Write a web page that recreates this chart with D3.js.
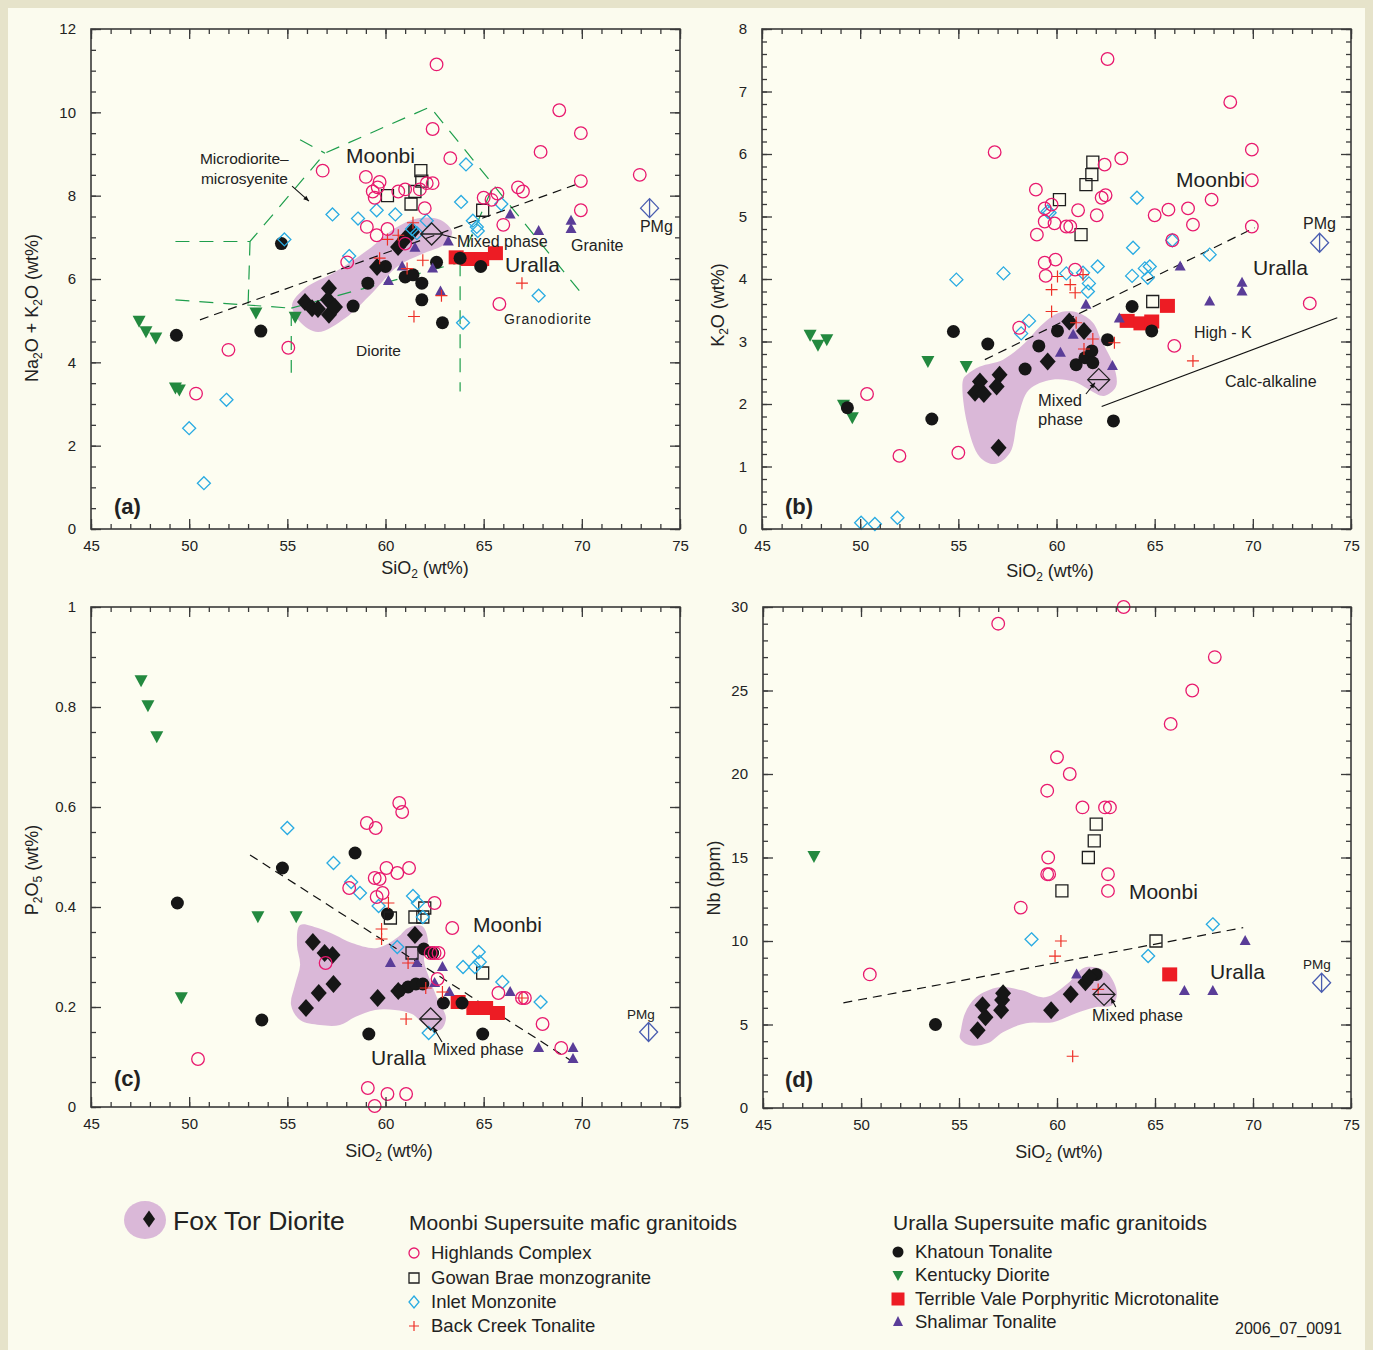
<!DOCTYPE html>
<html><head><meta charset="utf-8">
<script src="https://cdn.jsdelivr.net/npm/d3@7"></script>
<style>
body{margin:0;background:#e6e3ca;}
svg{display:block;font-family:"Liberation Sans",Arial,sans-serif;}
</style></head><body>
<svg width="1373" height="1350"></svg>
<script>
// ---------- data: (SiO2, value) pairs ----------
// panel a : Na2O + K2O
const foxTorA = [[55.9,5.45],[56.26,5.3],[56.56,5.28],[57.12,5.78],[57.07,5.5],[57.12,5.14],[57.43,5.33],[59.57,6.29],[60.64,6.77],[61.0,6.96],[61.35,7.13]];
const highlandsA = [[56.8,8.6],[59.0,8.45],[59.7,8.33],[59.6,8.2],[59.35,8.1],[59.45,7.95],[60.65,8.1],[61.0,8.15],[61.75,8.15],[62.1,8.3],[62.4,8.3],[62.0,7.7],[63.3,8.9],[65.0,7.95],[65.4,7.9],[59.05,7.25],[59.55,7.05],[60.1,7.2],[61.0,6.85],[58.05,6.4],[65.8,5.4],[62.6,11.15],[62.4,9.6],[68.85,10.05],[69.95,9.5],[67.9,9.05],[69.95,8.35],[72.95,8.5],[66.75,8.2],[67.0,8.1],[65.7,8.05],[66.0,7.3],[69.95,7.65],[52.0,4.3],[55.05,4.35],[50.35,3.25]];
const gowanA = [[61.8,8.6],[61.85,8.35],[61.5,8.1],[60.1,8.0],[61.3,7.8],[64.95,7.65]];
const inletA = [[64.1,8.75],[63.85,7.85],[60.5,7.55],[59.55,7.65],[58.6,7.45],[57.3,7.55],[54.85,6.95],[58.15,6.55],[62.1,7.4],[61.35,7.2],[61.6,7.1],[64.45,7.4],[64.65,7.25],[64.7,7.15],[65.9,7.8],[67.8,5.6],[63.95,4.95],[51.9,3.1],[50.0,2.42],[50.75,1.1]];
const backCreekA = [[60.1,6.95],[60.65,7.05],[61.4,7.35],[59.7,6.5],[61.9,6.45],[61.1,6.25],[62.85,5.6],[61.45,5.1],[66.95,5.9]];
const khatounA = [[49.35,4.65],[53.65,4.75],[54.7,6.85],[58.35,5.35],[59.1,5.9],[60.0,6.3],[61.0,6.05],[61.4,6.1],[61.85,5.9],[61.85,5.5],[62.9,4.95],[62.6,6.4],[63.8,6.5],[64.85,6.3]];
const kentuckyA = [[47.45,5.0],[47.8,4.75],[48.3,4.6],[49.3,3.4],[49.5,3.35],[53.4,5.2],[55.4,5.1]];
const terribleA = [[63.6,6.52],[64.2,6.48],[64.9,6.48],[65.6,6.62]];
const shalimarA = [[60.15,5.95],[60.85,6.3],[61.5,6.75],[62.4,6.25],[63.2,6.9],[62.8,5.7],[66.35,7.55],[67.8,7.15],[69.45,7.4],[69.45,7.2]];
const mixedA = [62.35,7.08], pmgA = [73.45,7.7];
const fieldA = [[55.24,5.38],[55.65,4.97],[56.56,4.73],[57.94,5.06],[59.31,5.66],[60.64,6.31],[61.86,6.6],[63.03,6.84],[63.39,7.13],[62.78,7.42],[61.66,7.46],[60.48,7.22],[59.11,6.7],[57.43,6.17],[55.9,5.78]];
const tasLines = [
  [[49.3,6.9],[53.1,6.9],[56.92,9.02],[62.27,10.13],[69.9,5.7]],
  [[55.65,9.34],[56.92,9.02]],
  [[53.1,6.9],[53.0,5.35]],
  [[49.3,5.5],[55.2,5.3],[55.2,3.75]],
  [[55.2,5.3],[63.8,6.4],[65.5,8.25]],
  [[63.8,6.4],[63.8,3.3]]
];
const divA = [[50.55,5.02],[69.65,8.26]];

// panel b : K2O
const foxTorB = [[60.65,3.32],[61.4,3.17],[59.55,2.68],[57.1,2.47],[56.1,2.36],[56.95,2.28],[55.85,2.18],[56.3,2.16],[57.05,1.3]];
const highlandsB = [[56.85,6.03],[58.95,5.43],[59.4,5.13],[59.75,5.19],[59.4,4.92],[59.9,4.89],[59.0,4.71],[59.4,4.26],[59.95,4.31],[59.45,4.05],[62.6,7.52],[68.85,6.83],[69.95,6.07],[69.95,5.58],[63.3,5.93],[62.45,5.83],[62.3,5.3],[62.5,5.34],[61.1,5.1],[62.05,5.02],[67.9,5.27],[66.7,5.13],[65.7,5.11],[65.0,5.02],[66.95,4.87],[69.95,4.84],[65.9,4.62],[72.9,3.61],[60.5,4.84],[60.7,4.84],[60.95,4.15],[58.1,3.22],[50.35,2.16],[52.0,1.17],[55.0,1.22],[66.0,2.93]];
const gowanB = [[61.85,5.87],[61.8,5.67],[61.5,5.51],[60.15,5.27],[61.25,4.71],[64.9,3.64]];
const inletB = [[59.55,5.08],[54.9,3.99],[57.3,4.09],[64.1,5.3],[63.9,4.5],[65.9,4.62],[67.8,4.39],[62.1,4.2],[63.85,4.05],[64.5,4.17],[64.75,4.2],[64.65,4.02],[60.5,4.09],[61.35,4.1],[61.65,3.93],[61.6,3.8],[59.65,5.06],[58.6,3.33],[58.2,3.13],[50.05,0.1],[50.75,0.08],[51.9,0.18]];
const backCreekB = [[60.05,4.04],[59.75,3.83],[60.7,3.91],[60.95,3.78],[61.35,4.07],[59.75,3.48],[61.0,3.3],[61.85,3.04],[62.95,2.98],[61.4,2.88],[66.95,2.69]];
const khatounB = [[54.75,3.16],[56.5,2.96],[58.4,2.56],[59.1,2.93],[60.05,3.17],[53.65,1.76],[49.35,1.94],[61.0,2.63],[61.45,2.74],[61.8,2.85],[61.85,2.66],[62.6,3.03],[63.85,3.56],[64.85,3.17],[62.9,1.73]];
const kentuckyB = [[47.45,3.11],[47.85,2.95],[48.3,3.04],[53.45,2.69],[55.4,2.61],[49.15,1.99],[49.6,1.79]];
const terribleB = [[63.6,3.33],[64.3,3.29],[64.85,3.32],[65.65,3.57]];
const shalimarB = [[61.5,3.59],[60.85,3.11],[60.2,2.82],[62.85,2.61],[63.2,3.37],[67.8,3.64],[69.45,3.8],[69.45,3.94],[66.3,4.2]];
const mixedB = [62.15,2.39], pmgB = [73.4,4.58];
const fieldB = [[55.24,2.39],[55.44,1.7],[56.1,1.15],[56.87,1.04],[57.63,1.22],[58.04,1.79],[58.6,2.23],[59.77,2.39],[60.89,2.36],[61.66,2.23],[62.42,2.13],[63.03,2.28],[62.93,2.6],[62.27,3.03],[61.86,3.3],[61.1,3.46],[60.13,3.46],[59.16,3.24],[58.4,2.98],[57.28,2.71],[56.1,2.6],[55.44,2.47]];
const divB = [[56.35,2.71],[70.1,4.82]];
const calcB = [[62.3,1.96],[74.3,3.38]];

// panel c : P2O5
const foxTorC = [[56.3,0.33],[56.9,0.308],[57.3,0.304],[56.6,0.228],[57.35,0.246],[55.95,0.198],[59.6,0.218],[60.65,0.232],[61.5,0.344]];
const highlandsC = [[60.7,0.608],[60.85,0.59],[59.05,0.568],[59.5,0.558],[60.05,0.478],[60.6,0.468],[61.2,0.478],[59.45,0.458],[59.7,0.456],[58.15,0.438],[59.85,0.428],[59.55,0.42],[63.4,0.358],[62.5,0.408],[62.3,0.308],[62.5,0.308],[62.7,0.308],[62.65,0.256],[56.95,0.288],[65.75,0.228],[66.95,0.218],[67.1,0.218],[68.0,0.166],[68.95,0.118],[59.1,0.038],[60.1,0.026],[61.05,0.026],[59.45,0.002],[50.45,0.096]];
const gowanC = [[60.25,0.378],[61.5,0.38],[61.9,0.38],[62.0,0.398],[61.35,0.308],[64.95,0.268]];
const inletC = [[55.0,0.558],[57.35,0.488],[58.25,0.45],[58.7,0.428],[59.65,0.402],[61.4,0.422],[61.65,0.408],[61.9,0.38],[60.6,0.32],[64.75,0.31],[63.95,0.28],[64.55,0.28],[64.8,0.29],[65.95,0.25],[67.9,0.21],[62.2,0.148]];
const backCreekC = [[60.15,0.408],[59.8,0.356],[59.8,0.336],[61.15,0.288],[62.05,0.238],[62.9,0.23],[61.05,0.176],[66.95,0.218]];
const khatounC = [[49.4,0.408],[53.7,0.174],[54.75,0.478],[58.45,0.508],[60.1,0.386],[61.95,0.316],[62.4,0.308],[60.7,0.232],[61.15,0.24],[61.55,0.246],[61.9,0.246],[62.95,0.208],[63.9,0.208],[59.15,0.146],[64.95,0.146]];
const kentuckyC = [[47.55,0.854],[47.9,0.804],[48.35,0.742],[49.6,0.22],[53.5,0.382],[55.45,0.382]];
const terribleC = [[63.7,0.21],[64.5,0.198],[65.1,0.198],[65.7,0.188]];
const shalimarC = [[60.25,0.288],[61.6,0.288],[62.9,0.28],[62.5,0.248],[63.25,0.23],[66.35,0.23],[67.8,0.118],[69.55,0.118],[69.55,0.096]];
const mixedC = [62.3,0.176], pmgC = [73.4,0.15];
const fieldC = [[55.65,0.364],[56.56,0.358],[57.43,0.344],[58.29,0.328],[59.57,0.318],[60.64,0.34],[61.15,0.358],[61.86,0.362],[62.16,0.334],[61.96,0.294],[62.27,0.254],[62.67,0.214],[63.08,0.178],[62.78,0.154],[62.01,0.164],[61.35,0.186],[60.48,0.194],[59.47,0.194],[58.45,0.18],[57.68,0.164],[56.66,0.164],[55.65,0.174],[55.19,0.204],[55.39,0.244],[55.65,0.284],[55.49,0.324]];
const divC = [[53.1,0.504],[69.4,0.094]];

// panel d : Nb
const foxTorD = [[55.95,4.66],[56.35,5.44],[56.2,6.16],[57.15,5.86],[57.2,6.46],[57.25,6.87],[59.7,5.86],[60.7,6.81],[61.45,7.53],[61.65,7.83]];
const highlandsD = [[57.0,29],[63.4,30],[68.05,27],[66.9,25],[65.8,23],[60.0,21],[60.65,20],[59.5,19],[61.3,18],[62.45,18],[62.7,18],[59.55,15],[59.5,14],[59.6,14],[62.6,14],[62.6,13],[58.15,12],[50.45,8]];
const gowanD = [[62.0,17],[61.9,16],[61.6,15],[60.25,13],[65.05,10]];
const inletD = [[58.7,10.1],[64.65,9.1],[67.95,11]];
const backCreekD = [[60.2,10],[59.9,9.1],[60.8,3.1],[62.1,7.1]];
const khatounD = [[53.8,5.0],[62.0,8.0]];
const kentuckyD = [[47.6,15.1]];
const terribleD = [[65.75,8.0]];
const shalimarD = [[61.0,8.0],[66.5,7.0],[67.95,7.0],[69.6,10.0]];
const mixedD = [62.4,6.8], pmgD = [73.5,7.5];
const fieldD = [[55.1,4.66],[55.31,5.68],[55.87,6.63],[57.04,7.23],[58.21,7.05],[59.39,6.63],[60.56,7.47],[61.33,8.37],[61.94,8.43],[62.6,8.07],[63.06,6.87],[62.81,6.16],[61.94,6.04],[60.97,5.68],[59.8,5.14],[58.42,5.08],[57.24,4.54],[56.48,3.89],[55.51,3.77],[55.05,4.18]];
const divD = [[49.1,6.3],[69.5,10.8]];

const xTicks = [45,50,55,60,65,70,75];

// ---------- styling ----------
const C = {
  pink:"#e8196e", cyan:"#29abe2", red:"#ee2f26", black:"#161616",
  green:"#23893f", purple:"#5a3d98", field:"#dab8d8", tas:"#1e9e4c", pmg:"#4a5db0"
};
const sh = {
  circle: r => `M${r},0A${r},${r} 0 1,1 ${-r},0A${r},${r} 0 1,1 ${r},0Z`,
  square: (w,h) => `M${-w/2},${-h/2}h${w}v${h}h${-w}Z`,
  diamond: (w,h) => `M0,${-h}L${w},0L0,${h}L${-w},0Z`,
  triUp: (w,h) => `M0,${-h*0.6}L${w/2},${h*0.4}L${-w/2},${h*0.4}Z`,
  triDown: (w,h) => `M0,${h*0.6}L${w/2},${-h*0.4}L${-w/2},${-h*0.4}Z`,
  plus: a => `M${-a},0H${a}M0,${-a}V${a}`
};
const styles = {
  terrible: {d: sh.square(15,14), fill:"#ed1c24", stroke:"none"},
  kentucky: {d: sh.triDown(13,12), fill:C.green, stroke:"none"},
  khatoun: {d: sh.circle(6.5), fill:C.black, stroke:"none"},
  foxTor: {d: sh.diamond(8,9), fill:C.black, stroke:"none"},
  shalimar: {d: sh.triUp(11,10), fill:C.purple, stroke:"none"},
  gowan: {d: sh.square(12,12), fill:"none", stroke:"#1e1e1e", sw:1.3},
  inlet: {d: sh.diamond(6.5,6.5), fill:"none", stroke:C.cyan, sw:1.3},
  backCreek: {d: sh.plus(6), fill:"none", stroke:C.red, sw:1.2},
  highlands: {d: sh.circle(6.3), fill:"none", stroke:C.pink, sw:1.3}
};

const svg = d3.select("svg");
svg.append("rect").attr("x",8).attr("y",8).attr("width",1357).attr("height",1342).attr("fill","#fbfbee");

const panels = [
  {id:"a", x0:91, x1:680, y0:29, y1:529, yMax:12, yMajor:2, yMinor:0.5, fmt:d=>d,
   series:{terrible:terribleA,kentucky:kentuckyA,khatoun:khatounA,foxTor:foxTorA,shalimar:shalimarA,gowan:gowanA,inlet:inletA,backCreek:backCreekA,highlands:highlandsA},
   field:fieldA, mixed:mixedA, pmg:pmgA, xTitleX:425, xTitleY:574, yTitleX:38, yTitleY:308,
   yTitle:[["Na"],["2","sub"],["O + K"],["2","sub"],["O (wt%)"]]},
  {id:"b", x0:762, x1:1351, y0:29, y1:529, yMax:8, yMajor:1, yMinor:0.2, fmt:d=>d,
   series:{terrible:terribleB,kentucky:kentuckyB,khatoun:khatounB,foxTor:foxTorB,shalimar:shalimarB,gowan:gowanB,inlet:inletB,backCreek:backCreekB,highlands:highlandsB},
   field:fieldB, mixed:mixedB, pmg:pmgB, xTitleX:1050, xTitleY:577, yTitleX:724, yTitleY:305,
   yTitle:[["K"],["2","sub"],["O (wt%)"]]},
  {id:"c", x0:91, x1:680, y0:607, y1:1107, yMax:1, yMajor:0.2, yMinor:0.05, fmt:d=>String(+d.toFixed(1)),
   series:{terrible:terribleC,kentucky:kentuckyC,khatoun:khatounC,foxTor:foxTorC,shalimar:shalimarC,gowan:gowanC,inlet:inletC,backCreek:backCreekC,highlands:highlandsC},
   field:fieldC, mixed:mixedC, pmg:pmgC, xTitleX:389, xTitleY:1157, yTitleX:38, yTitleY:870,
   yTitle:[["P"],["2","sub"],["O"],["5","sub"],[" (wt%)"]]},
  {id:"d", x0:763, x1:1351, y0:607, y1:1108, yMax:30, yMajor:5, yMinor:1, fmt:d=>d,
   series:{terrible:terribleD,kentucky:kentuckyD,khatoun:khatounD,foxTor:foxTorD,shalimar:shalimarD,gowan:gowanD,inlet:inletD,backCreek:backCreekD,highlands:highlandsD},
   field:fieldD, mixed:mixedD, pmg:pmgD, xTitleX:1059, xTitleY:1158, yTitleX:720, yTitleY:878,
   yTitle:[["Nb (ppm)"]]}
];

function steps(max, step){ return d3.range(0, Math.round(max/step)+1).map(i => +(i*step).toFixed(4)); }

panels.forEach(p => {
  const x = d3.scaleLinear().domain([45,75]).range([p.x0,p.x1]);
  const y = d3.scaleLinear().domain([0,p.yMax]).range([p.y1,p.y0]);
  p.x = x; p.y = y;
  const g = svg.append("g");
  g.append("rect").attr("x",p.x0).attr("y",p.y0).attr("width",p.x1-p.x0).attr("height",p.y1-p.y0).attr("fill","#fdfdf1");

  // field
  g.append("path").datum(p.field)
    .attr("d", d3.line().x(d=>x(d[0])).y(d=>y(d[1])).curve(d3.curveCatmullRomClosed.alpha(0.5)))
    .attr("fill", C.field).attr("stroke","none");

  p.g = g;
});

const line = p => d3.line().x(d=>p.x(d[0])).y(d=>p.y(d[1]));
const [pa,pb,pc,pd] = panels;

// boundary lines
tasLines.forEach(l => pa.g.append("path").attr("d", line(pa)(l)).attr("fill","none")
  .attr("stroke",C.tas).attr("stroke-width",1.2).attr("stroke-dasharray","14 10"));
[[pa,divA],[pb,divB],[pc,divC],[pd,divD]].forEach(([p,l]) =>
  p.g.append("path").attr("d", line(p)(l)).attr("fill","none").attr("stroke","#111")
   .attr("stroke-width",1.2).attr("stroke-dasharray","9 6"));
pb.g.append("path").attr("d", line(pb)(calcB)).attr("fill","none").attr("stroke","#111").attr("stroke-width",1.2);

// points
panels.forEach(p => {
  Object.keys(p.series).forEach(k => {
    const s = styles[k];
    p.g.append("g").selectAll("path").data(p.series[k]).join("path")
      .attr("transform", d => `translate(${p.x(d[0])},${p.y(d[1])})`)
      .attr("d", s.d).attr("fill", s.fill).attr("stroke", s.stroke).attr("stroke-width", s.sw || 0);
  });
  const mx = p.x(p.mixed[0]), my = p.y(p.mixed[1]);
  p.g.append("path").attr("transform",`translate(${mx},${my})`)
    .attr("d", sh.diamond(11,11) + "M-11,0H11").attr("fill","none").attr("stroke","#222").attr("stroke-width",1.3);
  const px = p.x(p.pmg[0]), py = p.y(p.pmg[1]);
  p.g.append("path").attr("transform",`translate(${px},${py})`)
    .attr("d", sh.diamond(9,9.5) + "M0,-9.5V9.5").attr("fill","none").attr("stroke",C.pmg).attr("stroke-width",1.3);
});

// axes: frame + inward ticks on all sides
panels.forEach(p => {
  const g = p.g, x = p.x, y = p.y;
  const xMinor = d3.range(45,76), yMinor = steps(p.yMax,p.yMinor), yMajor = steps(p.yMax,p.yMajor);
  const axes = [
    [d3.axisBottom(x).tickValues(xMinor).tickSizeInner(-5).tickFormat(""), `translate(0,${p.y1})`],
    [d3.axisBottom(x).tickValues(xTicks).tickSizeInner(-10).tickPadding(11), `translate(0,${p.y1})`],
    [d3.axisTop(x).tickValues(xMinor).tickSizeInner(-5).tickFormat(""), `translate(0,${p.y0})`],
    [d3.axisTop(x).tickValues(xTicks).tickSizeInner(-10).tickFormat(""), `translate(0,${p.y0})`],
    [d3.axisLeft(y).tickValues(yMinor).tickSizeInner(-5).tickFormat(""), `translate(${p.x0},0)`],
    [d3.axisLeft(y).tickValues(yMajor).tickSizeInner(-10).tickPadding(15).tickFormat(p.fmt), `translate(${p.x0},0)`],
    [d3.axisRight(y).tickValues(yMinor).tickSizeInner(-5).tickFormat(""), `translate(${p.x1},0)`],
    [d3.axisRight(y).tickValues(yMajor).tickSizeInner(-10).tickFormat(""), `translate(${p.x1},0)`]
  ];
  axes.forEach(([ax,tr]) => {
    const a = g.append("g").attr("transform",tr).call(ax.tickSizeOuter(0));
    a.select(".domain").remove();
    a.selectAll("line").attr("stroke","#3a3a3a").attr("stroke-width",1.3);
    a.selectAll("text").attr("font-size",15).attr("fill","#222").attr("font-family","Liberation Sans, Arial, sans-serif");
  });
  g.append("rect").attr("x",p.x0).attr("y",p.y0).attr("width",p.x1-p.x0).attr("height",p.y1-p.y0)
    .attr("fill","none").attr("stroke","#3a3a3a").attr("stroke-width",1.6);

  // x title
  const xt = g.append("text").attr("x",p.xTitleX).attr("y",p.xTitleY).attr("text-anchor","middle")
    .attr("font-size",18).attr("fill","#222");
  xt.append("tspan").text("SiO");
  xt.append("tspan").text("2").attr("font-size",12).attr("dy",4);
  xt.append("tspan").text(" (wt%)").attr("dy",-4);
  // y title
  const yt = g.append("text").attr("transform",`translate(${p.yTitleX},${p.yTitleY}) rotate(-90)`)
    .attr("text-anchor","middle").attr("font-size",18).attr("fill","#222");
  let sub = false;
  p.yTitle.forEach(([t,k]) => {
    const ts = yt.append("tspan").text(t);
    if (k === "sub") { ts.attr("font-size",12).attr("dy",4); sub = true; }
    else if (sub) { ts.attr("dy",-4); sub = false; }
  });
});

// annotations (data coordinates)
function label(p, t, dx, dy, size, opts={}) {
  return p.g.append("text").attr("x",p.x(dx)).attr("y",p.y(dy)).attr("font-size",size)
    .attr("fill","#222").attr("font-weight",opts.bold?"bold":null).attr("letter-spacing",opts.ls||null).text(t);
}
function arrow(p, from, to) {
  const x1=p.x(from[0]), y1=p.y(from[1]), x2=p.x(to[0]), y2=p.y(to[1]);
  const ang = Math.atan2(y2-y1,x2-x1), h=6;
  p.g.append("path").attr("d",`M${x1},${y1}L${x2},${y2}`).attr("stroke","#111").attr("stroke-width",1.1);
  p.g.append("path").attr("d",`M${x2},${y2}L${x2-h*Math.cos(ang-0.4)},${y2-h*Math.sin(ang-0.4)}L${x2-h*Math.cos(ang+0.4)},${y2-h*Math.sin(ang+0.4)}Z`).attr("fill","#111");
}
label(pa,"Microdiorite\u2013",50.55,8.76,15.5);
label(pa,"microsyenite",50.6,8.28,15.5);
arrow(pa,[55.24,8.23],[56.1,7.87]);
label(pa,"Moonbi",57.99,8.78,21);
label(pa,"Mixed phase",63.64,6.78,16);
pa.g.append("path").attr("d",line(pa)([[62.9,7.06],[63.62,6.98]])).attr("stroke","#111").attr("stroke-width",1.1);
label(pa,"Granite",69.45,6.68,16);
label(pa,"Uralla",66.09,6.17,21);
label(pa,"Granodiorite",66.04,4.92,14,{ls:"0.9"});
label(pa,"Diorite",58.5,4.15,15.5);
label(pa,"PMg",72.96,7.12,16);
label(pa,"(a)",46.17,0.36,22,{bold:true});

label(pb,"Moonbi",66.09,5.47,21);
label(pb,"PMg",72.56,4.8,16);
label(pb,"Uralla",70.01,4.06,21);
label(pb,"High - K",67.0,3.06,16);
label(pb,"Calc-alkaline",68.58,2.27,16);
label(pb,"Mixed",59.06,1.97,16.5);
label(pb,"phase",59.06,1.66,16.5);
arrow(pb,[61.5,2.16],[61.96,2.34]);
label(pb,"(b)",46.17,0.24,22,{bold:true});

label(pc,"Moonbi",64.46,0.35,21);
label(pc,"Uralla",59.26,0.084,21);
label(pc,"Mixed phase",62.42,0.104,16);
arrow(pc,[62.88,0.13],[62.42,0.16]);
label(pc,"PMg",72.3,0.176,13.5);
label(pc,"(c)",46.17,0.042,22,{bold:true});

label(pd,"Moonbi",63.67,12.49,21);
label(pd,"Uralla",67.81,7.71,21);
label(pd,"Mixed phase",61.79,5.2,16);
arrow(pd,[63.0,6.05],[62.75,6.6]);
label(pd,"PMg",72.55,8.31,13.5);
label(pd,"(d)",46.12,1.26,22,{bold:true});

// ---------- legend ----------
const lg = svg.append("g");
lg.append("ellipse").attr("cx",145).attr("cy",1220).attr("rx",21).attr("ry",19).attr("fill",C.field);
lg.append("path").attr("transform","translate(149,1219)").attr("d",sh.diamond(6,8.5)).attr("fill",C.black);
lg.append("text").attr("x",173).attr("y",1230).attr("font-size",26.5).attr("fill","#222").text("Fox Tor Diorite");

const moonbiItems = [["Highlands Complex","highlands"],["Gowan Brae monzogranite","gowan"],["Inlet Monzonite","inlet"],["Back Creek Tonalite","backCreek"]];
const urallaItems = [["Khatoun Tonalite","khatoun"],["Kentucky Diorite","kentucky"],["Terrible Vale Porphyritic Microtonalite","terrible"],["Shalimar Tonalite","shalimar"]];
const legendShapes = {
  highlands: sh.circle(5), gowan: sh.square(10,10), inlet: sh.diamond(5,6), backCreek: sh.plus(5),
  khatoun: sh.circle(5.5), kentucky: sh.triDown(11,10), terrible: sh.square(13,13), shalimar: sh.triUp(10,10)
};
function legendBlock(title, items, x, yTitle, ys) {
  lg.append("text").attr("x",x).attr("y",yTitle).attr("font-size",21).attr("fill","#222").text(title);
  items.forEach(([t,k],i) => {
    const s = styles[k];
    lg.append("path").attr("transform",`translate(${x+5},${ys[i]})`).attr("d",legendShapes[k])
      .attr("fill",s.fill).attr("stroke",s.stroke).attr("stroke-width",s.sw||0);
    lg.append("text").attr("x",x+22).attr("y",ys[i]+6).attr("font-size",18.5).attr("fill","#222").text(t);
  });
}
legendBlock("Moonbi Supersuite mafic granitoids", moonbiItems, 409, 1230, [1253,1278,1302,1326]);
legendBlock("Uralla Supersuite mafic granitoids", urallaItems, 893, 1230, [1252,1275,1299,1322]);
lg.append("text").attr("x",1235).attr("y",1334).attr("font-size",16).attr("fill","#222").text("2006_07_0091");
</script>
</body></html>
